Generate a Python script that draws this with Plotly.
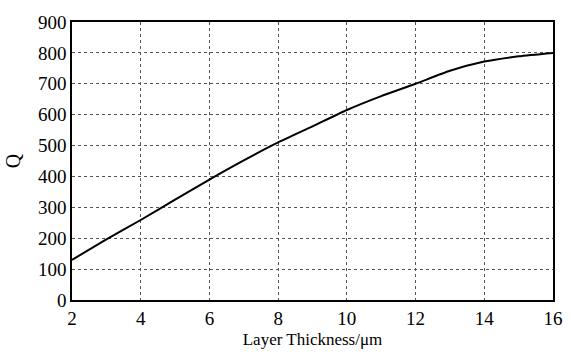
import plotly.graph_objects as go

thickness = [2, 3, 4, 5, 6, 7, 8, 9, 10, 11, 12, 13, 14, 15, 16]
q_values = [130, 196, 259, 325, 390, 452, 510, 562, 615, 660, 700, 742, 772, 789, 800]

x_ticks = [2, 4, 6, 8, 10, 12, 14, 16]
y_ticks = [0, 100, 200, 300, 400, 500, 600, 700, 800, 900]

fig = go.Figure()
fig.add_trace(go.Scatter(
    x=thickness, y=q_values, mode="lines",
    line=dict(color="black", width=2, shape="spline", smoothing=0.6),
    showlegend=False,
))

font = "serif"
fig.update_layout(
    width=571, height=354,
    margin=dict(l=72, r=8, t=22, b=54),
    paper_bgcolor="white", plot_bgcolor="white",
    font=dict(family=font, color="black", size=19),
    xaxis=dict(
        range=[2, 16], tickvals=x_ticks,
        ticktext=[str(v) for v in x_ticks],
        showline=True, linecolor="black", linewidth=1.5, mirror=True,
        showgrid=True, gridcolor="#555555", griddash="3px,3px", gridwidth=1,
        ticks="", zeroline=False,
        title=dict(text="Layer Thickness/μm", font=dict(family=font, size=17, color="black"), standoff=6),
        tickfont=dict(family=font, size=19, color="black", weight="normal", style="normal"),
    ),
    yaxis=dict(
        range=[0, 900], tickvals=y_ticks,
        ticktext=[str(v) for v in y_ticks],
        showline=True, linecolor="black", linewidth=1.5, mirror=True,
        showgrid=True, gridcolor="#555555", griddash="3px,3px", gridwidth=1,
        ticks="", zeroline=False,
        title=dict(text="Q", font=dict(family=font, size=20, color="black"), standoff=12),
        tickfont=dict(family=font, size=19, color="black", weight="normal", style="normal"),
    ),
)

fig.write_html("out.html")
